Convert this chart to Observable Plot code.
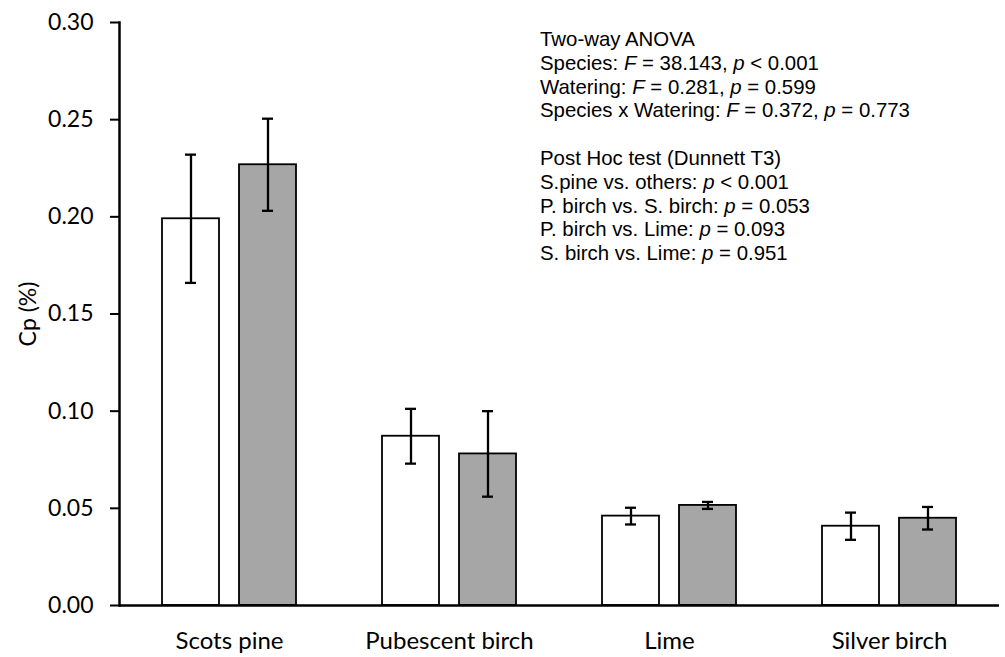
<!DOCTYPE html>
<html>
<head>
<meta charset="utf-8">
<script src="https://cdn.jsdelivr.net/npm/d3@7"></script>
<script src="https://cdn.jsdelivr.net/npm/@observablehq/plot@0.6"></script>
<style>
  html, body { margin: 0; padding: 0; background: #fff; }
  #chart svg { display: block; }
</style>
</head>
<body>
<div id="chart"></div>
<script>
// ---- data ----
const species = ["Scots pine", "Pubescent birch", "Lime", "Silver birch"];
const treatments = ["Control", "Reduced watering"];
const controlMean = [0.199, 0.0871, 0.046, 0.0408];
const controlSE   = [0.033, 0.0141, 0.0043, 0.0070];
const droughtMean = [0.2268, 0.078, 0.0515, 0.0449];
const droughtSE   = [0.0237, 0.022, 0.0018, 0.0058];
const yTicks = [0, 0.05, 0.10, 0.15, 0.20, 0.25, 0.30];
const fills = ["#ffffff", "#a6a6a6"];
const yLabel = "Cp (%)";
const annotation = [
  "Two-way ANOVA",
  "Species: *F* = 38.143, *p* < 0.001",
  "Watering: *F* = 0.281, *p* = 0.599",
  "Species x Watering: *F* = 0.372, *p* = 0.773",
  "",
  "Post Hoc test (Dunnett T3)",
  "S.pine vs. others: *p* < 0.001",
  "P. birch vs. S. birch: *p* = 0.053",
  "P. birch vs. Lime: *p* = 0.093",
  "S. birch vs. Lime: *p* = 0.951"
];

// ---- table built from the arrays ----
const rows = [];
species.forEach((s, i) => {
  rows.push({species: s, treatment: treatments[0], mean: controlMean[i], se: controlSE[i]});
  rows.push({species: s, treatment: treatments[1], mean: droughtMean[i], se: droughtSE[i]});
});

const axisFont = "Lato, 'Open Sans', sans-serif";

const svg = Plot.plot({
  width: 1005,
  height: 657,
  marginTop: 22,
  marginBottom: 52,
  marginLeft: 118,
  marginRight: 5,
  style: {background: "#fff", color: "#000", fontFamily: axisFont},
  fx: {domain: species, padding: 0},
  x: {domain: treatments, paddingInner: 0.2535, paddingOuter: 0.546, axis: null},
  y: {domain: [0, 0.30]},
  color: {domain: treatments, range: fills},
  marks: [
    Plot.barY(rows, {fx: "species", x: "treatment", y: "mean", fill: "treatment",
      stroke: "#000", strokeWidth: 1.8}),
    Plot.ruleX(rows, {fx: "species", x: "treatment",
      y1: d => d.mean - d.se, y2: d => d.mean + d.se, stroke: "#000", strokeWidth: 2.3}),
    Plot.tickY(rows, {fx: "species", x: "treatment", y: d => d.mean + d.se,
      stroke: "#000", strokeWidth: 2.3, insetLeft: 23, insetRight: 23}),
    Plot.tickY(rows, {fx: "species", x: "treatment", y: d => d.mean - d.se,
      stroke: "#000", strokeWidth: 2.3, insetLeft: 23, insetRight: 23}),
    Plot.ruleY([0], {stroke: "#000", strokeWidth: 2.5}),
    Plot.frame({anchor: "left", facetAnchor: "left", stroke: "#000", strokeWidth: 2.5}),
    Plot.axisY({ticks: yTicks, tickFormat: d3.format(".2f"), tickSize: 9, tickPadding: 17,
      strokeWidth: 2, fontSize: 23, label: yLabel, labelAnchor: "center", labelArrow: "none",
      labelOffset: 100}),
    Plot.axisFx({anchor: "bottom", tickSize: 0, tickPadding: 26, fontSize: 24, label: null})
  ]
});

document.getElementById("chart").appendChild(svg);

// ---- statistics annotation (mixed italics) ----
const root = d3.select(svg);
const g = root.append("g")
  .attr("font-family", "'Liberation Sans', Arial, sans-serif")
  .attr("font-size", 20.4)
  .attr("text-anchor", "start")
  .attr("fill", "#000");
annotation.forEach((line, i) => {
  if (!line) return;
  const t = g.append("text").attr("x", 540).attr("y", 46 + i * 23.8);
  line.split("*").forEach((part, j) => {
    if (!part) return;
    const ts = t.append("tspan").text(part);
    if (j % 2 === 1) ts.attr("font-style", "italic");
  });
});
</script>
</body>
</html>
